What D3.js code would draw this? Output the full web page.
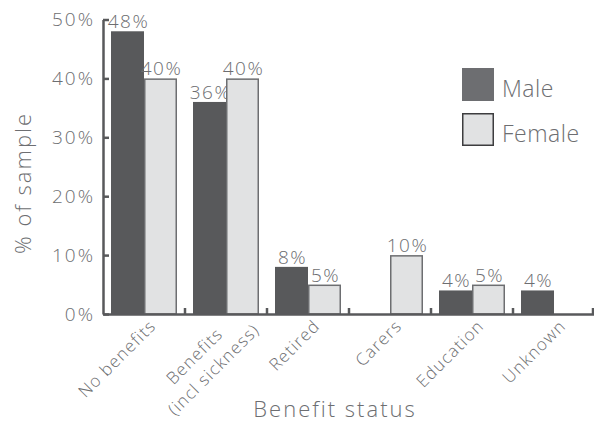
<!DOCTYPE html>
<html>
<head>
<meta charset="utf-8">
<script src="https://cdn.jsdelivr.net/npm/d3@7"></script>
<style>
  html, body { margin: 0; padding: 0; background: #ffffff; }
  svg text { font-family: "Open Sans", sans-serif; font-weight: 300; fill: #6d6e71; }
</style>
</head>
<body>
<svg id="chart" width="594" height="425"></svg>
<script>
const categories = ["No benefits", "Benefits\n(incl sickness)", "Retired", "Carers", "Education", "Unknown"];
const series = ["Male", "Female"];
const maleValues = [48, 36, 8, 0, 4, 4];
const femaleValues = [40, 40, 5, 10, 5, 0];
const yTicks = [0, 10, 20, 30, 40, 50];

const svg = d3.select("#chart");

const x = d3.scaleBand().domain(categories).range([103, 595]).paddingInner(16 / 82).paddingOuter(8 / 82);
const xs = d3.scaleBand().domain(series).range([0, x.bandwidth()]).padding(0);
const y = d3.scaleLinear().domain([0, 50]).range([314, 19.5]);

const color = { Male: "#58595b", Female: "#e1e2e3" };
const axisColor = "#58595b";

const data = categories.map((c, i) => ({ cat: c, vals: [
  { s: "Male", v: maleValues[i] }, { s: "Female", v: femaleValues[i] }
]}));

// bars
const g = svg.append("g");
data.forEach(d => {
  d.vals.filter(e => e.v > 0).forEach(e => {
    const bx = x(d.cat) + xs(e.s);
    const f = e.s === "Female";
    g.append("rect")
      .attr("x", f ? bx + 0.75 : bx)
      .attr("y", f ? y(e.v) + 0.75 : y(e.v))
      .attr("width", f ? xs.bandwidth() - 1.5 : xs.bandwidth())
      .attr("height", f ? y(0) - y(e.v) - 0.75 : y(0) - y(e.v))
      .attr("fill", color[e.s])
      .attr("stroke", f ? "#6d6e71" : "none")
      .attr("stroke-width", 1.5);
    g.append("text")
      .attr("x", bx + xs.bandwidth() / 2 + 1)
      .attr("y", y(e.v) - 3)
      .attr("text-anchor", "middle")
      .style("font-size", "19px")
      .style("letter-spacing", "1.5px")
      .text(e.v + "%");
  });
});

// y axis
const yAxis = d3.axisLeft(y).tickValues(yTicks).tickFormat(d => d + "%").tickSize(-6).tickSizeOuter(0).tickPadding(8);
const yg = svg.append("g").attr("transform", "translate(103,0)").call(yAxis);
yg.select(".domain").attr("stroke", axisColor).attr("stroke-width", 2.5);
yg.selectAll(".tick line").attr("stroke", axisColor).attr("stroke-width", 2.5);
yg.selectAll(".tick text")
  .attr("fill", "#6d6e71")
  .style("font-size", "19px").style("letter-spacing", "2px")
  .style("font-family", "'Open Sans', sans-serif").style("font-weight", 300);

// x axis
const xAxis = d3.axisBottom(x).tickSize(0).tickFormat("").tickSizeOuter(0);
const xg = svg.append("g").attr("transform", "translate(0,314)").call(xAxis);
xg.select(".domain").attr("stroke", axisColor).attr("stroke-width", 2.5);
// boundary ticks
categories.forEach((c, i) => {
  const bx = Math.min(x(c) + x.bandwidth() + x.step() * x.paddingInner() / 2, 593);
  svg.append("line").attr("x1", bx).attr("x2", bx).attr("y1", 314).attr("y2", 308)
    .attr("stroke", axisColor).attr("stroke-width", 2.5);
});

// category labels
categories.forEach(c => {
  const cx = x(c) + x.bandwidth() / 2;
  const lines = c.split("\n");
  const t = svg.append("text")
    .attr("transform", `translate(${cx + 13},${327}) rotate(-45)`)
    .style("font-size", "17px")
    .style("letter-spacing", "1.2px");
  if (lines.length === 1) {
    t.attr("text-anchor", "end").text(c);
  } else {
    t.attr("text-anchor", "middle");
    t.append("tspan").attr("x", -52).attr("y", -5).text(lines[0]);
    t.append("tspan").attr("x", -48).attr("y", 18).text(lines[1]);
  }
});

// axis titles
svg.append("text")
  .attr("transform", "translate(31,183) rotate(-90)")
  .attr("text-anchor", "middle")
  .style("font-size", "22px")
  .style("letter-spacing", "2px")
  .text("% of sample");
svg.append("text")
  .attr("x", 335).attr("y", 417)
  .attr("text-anchor", "middle")
  .style("font-size", "22px")
  .style("letter-spacing", "2px")
  .text("Benefit status");

// legend
const legend = svg.append("g");
series.forEach((s, i) => {
  const ly = 68 + i * 45;
  const f = s === "Female";
  legend.append("rect")
    .attr("x", f ? 462.75 : 462).attr("y", f ? ly + 0.75 : ly)
    .attr("width", f ? 30.5 : 32).attr("height", f ? 31.5 : 33)
    .attr("fill", f ? "#e1e2e3" : "#6d6e71")
    .attr("stroke", f ? "#3d3d3f" : "none")
    .attr("stroke-width", 1.5);
  legend.append("text")
    .attr("x", 502).attr("y", ly + 29)
    .style("font-size", "23px")
    .style("letter-spacing", "0.5px")
    .text(s);
});
</script>
</body>
</html>
